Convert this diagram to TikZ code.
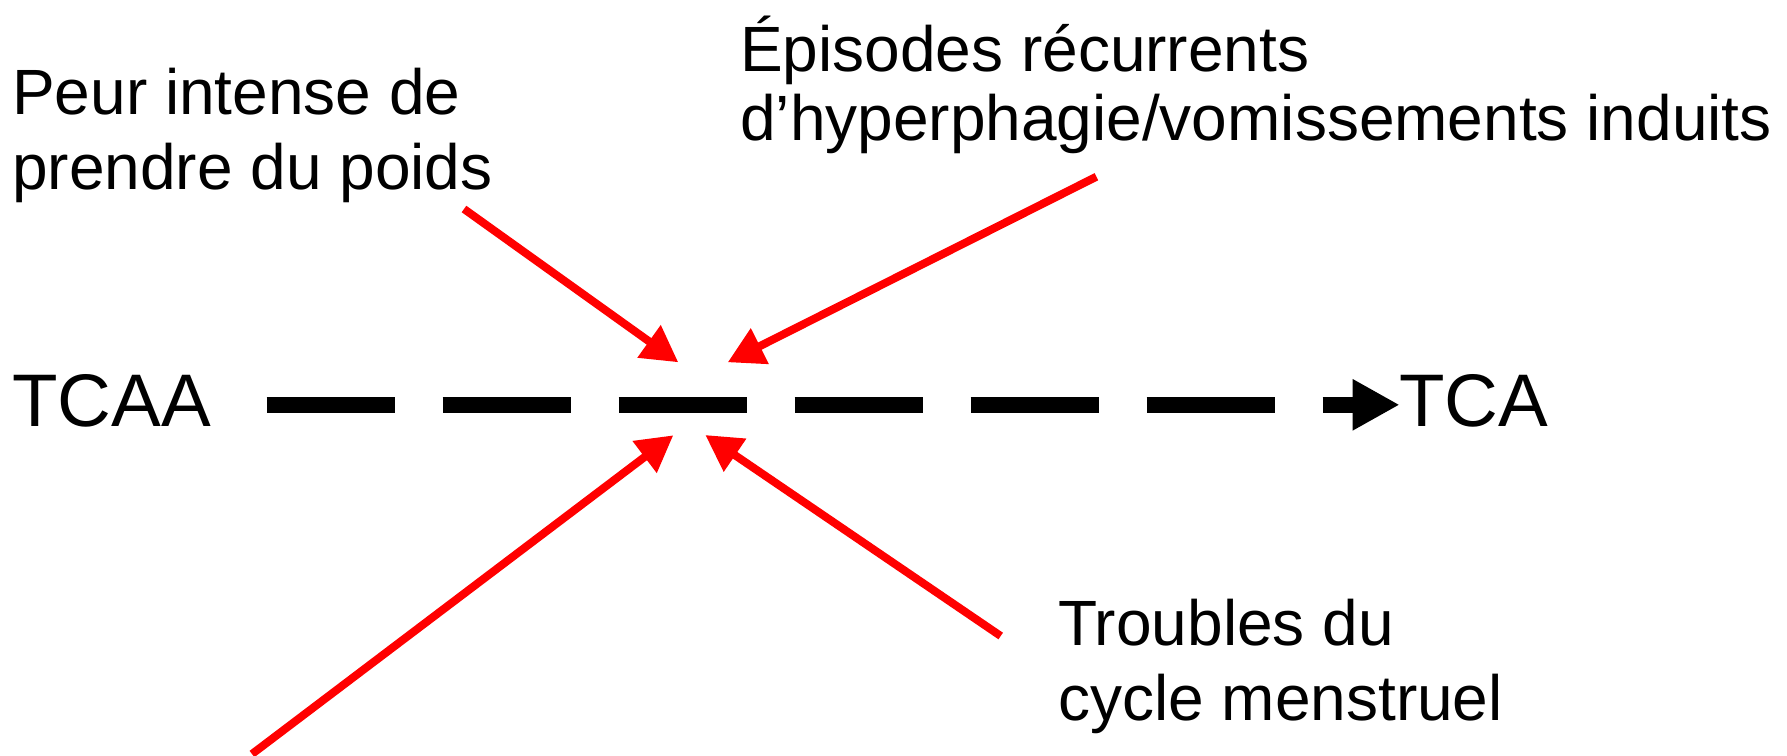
\documentclass[tikz,border=0pt]{standalone}
\usepackage{fontspec}
\setmainfont{Liberation Sans}
\usetikzlibrary{arrows.meta}
\begin{document}
\begin{tikzpicture}[x=1pt,y=-1pt,
  lbl/.style={anchor=base west,inner sep=0pt,font=\fontsize{64}{76}\selectfont},
  big/.style={anchor=base west,inner sep=0pt,font=\fontsize{74.5}{88}\selectfont},
  redarrow/.style={draw=red,line width=8pt,-{Triangle[length=36pt,width=38pt]}},
  mainline/.style={draw=black,line width=16pt,dash pattern=on 128pt off 48pt,-{Triangle[length=47pt,width=48pt]}}]
\useasboundingbox (0,0) rectangle (1787,755);
% texts
\node[big] (tcaa) at (12,426) {TCAA};
\node[big] (tca) at (1399,426) {TCA};
\node[lbl] (peur1) at (12,114) {Peur intense de};
\node[lbl] (peur2) at (12,189) {prendre du poids};
\node[lbl] (epi1) at (740,71) {Épisodes récurrents};
\node[lbl] (epi2) at (740,140) {d’hyperphagie/vomissements induits};
\node[lbl] (trb1) at (1058,645) {Troubles du};
\node[lbl] (trb2) at (1058,720) {cycle menstruel};
% coordinates
\coordinate (ls) at (266.7,404.8);
\coordinate (le) at (1399.6,404.8);
\coordinate (s1) at (464,209);
\coordinate (t1) at (678.3,362.3);
\coordinate (s2) at (1096.4,176.7);
\coordinate (t2) at (727.7,362.3);
\coordinate (s3) at (252,754);
\coordinate (t3) at (673.3,435.3);
\coordinate (s4) at (1000.7,636);
\coordinate (t4) at (705.3,435);
% connectors
\draw[mainline] (ls) -- (le);
\draw[redarrow] (s1) -- (t1);
\draw[redarrow] (s2) -- (t2);
\draw[redarrow] (s3) -- (t3);
\draw[redarrow] (s4) -- (t4);
\end{tikzpicture}
\end{document}
